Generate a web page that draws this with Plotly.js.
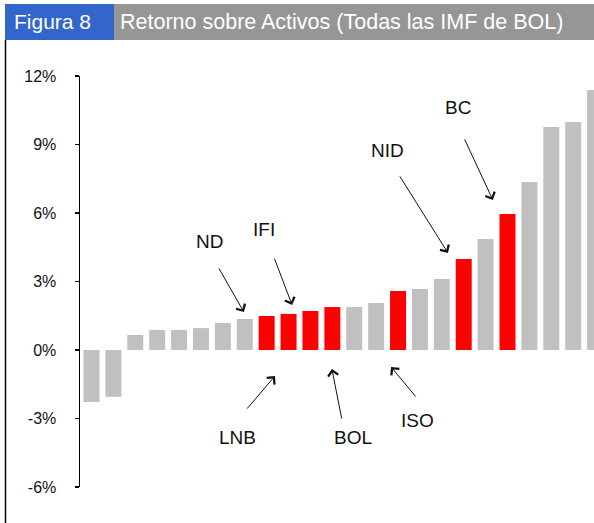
<!DOCTYPE html>
<html>
<head>
<meta charset="utf-8">
<script src="https://cdn.plot.ly/plotly-3.0.1.min.js"></script>
<style>
html,body{margin:0;padding:0;background:#fff;}
#chart{width:594px;height:523px;}
</style>
</head>
<body>
<div id="chart"></div>
<script>
// ---- data ----
var rank = [1,2,3,4,5,6,7,8,9,10,11,12,13,14,15,16,17,18,19,20,21,22,23,24];
var roa = [-2.28,-2.05,0.66,0.88,0.88,0.96,1.18,1.36,1.49,1.58,1.71,1.88,1.88,2.06,2.58,2.67,3.11,3.99,4.86,5.96,7.36,9.77,9.99,11.39];
var group = ['otra','otra','otra','otra','otra','otra','otra','otra',
             'sel','sel','sel','sel','otra','otra','sel','otra','otra','sel','otra','sel','otra','otra','otra','otra'];
var yTicks = [-6,-3,0,3,6,9,12];
var titleNum = 'Figura 8';
var titleText = 'Retorno sobre Activos (Todas las IMF de BOL)';
// callouts: label, text position (x,y), arrow tail (x,y), arrow head (x,y) in axis units
var callLabel = ['ND','IFI','NID','BC','LNB','BOL','ISO'];
var callTextX = [5.41, 7.88, 13.54, 16.73, 6.69, 11.94, 14.91];
var callTextY = [4.77, 5.26, 8.72, 10.64, -3.81, -3.85, -3.07];
var callTailX = [5.78, 8.33, 14.04, 17.01, 7.05, 11.44, 14.86];
var callTailY = [3.64, 4.07, 7.67, 9.29, -2.63, -3.07, -2.10];
var callHeadX = [6.96, 9.16, 16.28, 18.33, 8.38, 10.98, 13.68];
var callHeadY = [1.66, 1.97, 4.25, 6.57, -1.14, -0.83, -0.74];

// ---- styles ----
var colorMap = {otra:'#C0C0C0', sel:'#FF0000'};
var W = 594, H = 523, ML = 80, MR = 0, MT = 76, MB = 36;
function px2paperX(p){ return (p-ML)/(W-ML-MR); }
function px2paperY(p){ return (H-MB-p)/(H-MT-MB); }
var font = 'Liberation Sans, Arial, sans-serif';

var trace = {
  type:'bar',
  x: rank.map(function(r){return r-1;}),
  y: roa,
  marker:{color: group.map(function(g){return colorMap[g];}), line:{width:0}},
  hoverinfo:'skip'
};

var annotations = [];
for (var i=0;i<callLabel.length;i++){
  annotations.push({
    xref:'x', yref:'y', axref:'x', ayref:'y',
    x: callHeadX[i], y: callHeadY[i], ax: callTailX[i], ay: callTailY[i],
    text:'', showarrow:true, arrowhead:4, arrowsize:2, arrowwidth:1,
    arrowcolor:'#111', standoff:0, startstandoff:0
  });
  annotations.push({
    xref:'x', yref:'y', x: callTextX[i], y: callTextY[i],
    text: callLabel[i], showarrow:false, xanchor:'center', yanchor:'middle',
    font:{family:font, size:19, color:'#111'}
  });
}
annotations.push({
  xref:'paper', yref:'paper', x: px2paperX(12), y: px2paperY(22),
  text: titleNum, showarrow:false, xanchor:'left', yanchor:'middle',
  font:{family:font, size:21, color:'#fff'}
});
annotations.push({
  xref:'paper', yref:'paper', x: px2paperX(118), y: px2paperY(22),
  text: titleText, showarrow:false, xanchor:'left', yanchor:'middle',
  font:{family:font, size:21.5, color:'#fff'}
});

var shapes = [
  {type:'rect', xref:'paper', yref:'paper', x0:px2paperX(5), x1:px2paperX(114), y0:px2paperY(40), y1:px2paperY(4),
   fillcolor:'#3366CC', line:{width:0}, layer:'below'},
  {type:'rect', xref:'paper', yref:'paper', x0:px2paperX(114), x1:px2paperX(594), y0:px2paperY(40), y1:px2paperY(4),
   fillcolor:'#969696', line:{width:0}, layer:'below'},
  {type:'line', xref:'paper', yref:'paper', x0:px2paperX(5.5), x1:px2paperX(5.5), y0:px2paperY(40), y1:px2paperY(523),
   line:{color:'#000', width:1.5}}
];

var layout = {
  width:W, height:H,
  margin:{l:ML, r:MR, t:MT, b:MB, pad:0},
  paper_bgcolor:'#fff', plot_bgcolor:'#fff',
  showlegend:false,
  bargap:0.27,
  xaxis:{range:[-0.525, 22.95], visible:false, fixedrange:true},
  yaxis:{range:[-6,12], tickvals:yTicks, ticktext:yTicks.map(function(v){return v+'%';}),
         ticks:'outside', ticklen:4, tickwidth:1.5, tickcolor:'#000',
         showline:true, linecolor:'#000', linewidth:1.5,
         showgrid:false, zeroline:false, ticklabelstandoff:15,
         tickfont:{family:font, size:16, color:'#111'}, fixedrange:true},
  shapes:shapes,
  annotations:annotations
};

Plotly.newPlot('chart', [trace], layout, {displayModeBar:false, staticPlot:true});
</script>
</body>
</html>
